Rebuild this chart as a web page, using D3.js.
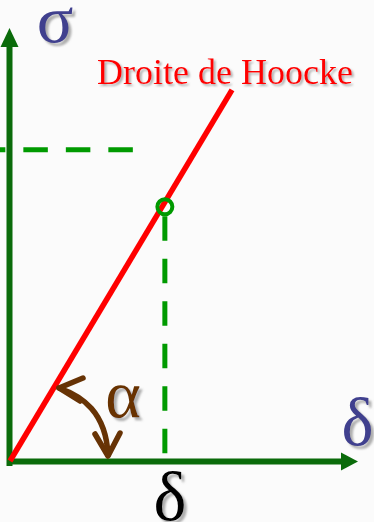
<!DOCTYPE html>
<html>
<head>
<meta charset="utf-8">
<script src="https://cdn.jsdelivr.net/npm/d3@7/dist/d3.min.js"></script>
</head>
<body style="margin:0;background:#fbfbfb">
<script>
// Stress-strain sketch (Hooke's law): strain δ on x, stress σ on y.
const deltaDomain = [0, 10];
const sigmaDomain = [0, 10];

// Hooke line from the origin
const hookeDelta = [0, 6.38];
const hookeSigma = [0, 8.57];

// marked point on the line and its projections
const pointDelta = [4.45];
const pointSigma = [5.87];
const sigmaGuideDelta = [3.53, -0.3];
const sigmaGuideSigma = [7.19, 7.19];
const deltaGuideDelta = [4.45, 4.45];
const deltaGuideSigma = [0.18, 5.7];

// labels
const labelText = ["σ", "δ", "δ", "α", "Droite de Hoocke"];
const labelSize = [68, 68, 70, 68, 36];

const W = 374, H = 522;
const svg = d3.select("body").append("svg").attr("width", W).attr("height", H);

const x = d3.scaleLinear().domain(deltaDomain).range([10, 358]);
const y = d3.scaleLinear().domain(sigmaDomain).range([461, 28]);

// soft drop shadows for the labels
const defs = svg.append("defs");
[["shadow3", 3], ["shadow2", 2]].forEach(([id, off]) => {
  defs.append("filter").attr("id", id)
    .attr("x", "-20%").attr("y", "-20%").attr("width", "150%").attr("height", "150%")
    .append("feDropShadow")
    .attr("dx", off).attr("dy", off).attr("stdDeviation", 0.8)
    .attr("flood-color", "#7a7a7a").attr("flood-opacity", 0.6);
});

// labels, one text element each
const labelX = [55, 357.5, 170, 123, 97];
const labelY = [42, 445, 520, 417, 84];
const labelFill = ["#3f3f8e", "#3f3f8e", "#000000", "#673305", "#ff0000"];
const labels = labelText.map((t, i) => ({ t, i }));

svg.append("g").selectAll("text").data(labels).join("text")
  .attr("x", d => labelX[d.i])
  .attr("y", d => labelY[d.i])
  .attr("font-size", d => labelSize[d.i])
  .style("font-family", '"Liberation Serif"')
  .attr("text-anchor", d => d.i === 4 ? "start" : "middle")
  .attr("fill", d => labelFill[d.i])
  .attr("filter", d => d.i === 4 ? "url(#shadow2)" : "url(#shadow3)")
  .text(d => d.t);

const axisColor = "#0a6b0a";
const guideColor = "#009a00";

// axes with arrow heads
svg.append("line")
  .attr("x1", x(0) - 0.5).attr("y1", y(0) + 5)
  .attr("x2", x(0) - 0.5).attr("y2", y(10) + 16)
  .attr("stroke", axisColor).attr("stroke-width", 6);
svg.append("path")
  .attr("d", `M${x(0) - 0.5},${y(10)} L${x(0) - 9.5},${y(10) + 19} L${x(0) + 8.5},${y(10) + 19} Z`)
  .attr("fill", axisColor);

svg.append("line")
  .attr("x1", x(0) - 3).attr("y1", y(0) + 0.5)
  .attr("x2", x(10) - 16).attr("y2", y(0) + 0.5)
  .attr("stroke", axisColor).attr("stroke-width", 6);
svg.append("path")
  .attr("d", `M${x(10)},${y(0) + 0.5} L${x(10) - 17},${y(0) - 8.5} L${x(10) - 17},${y(0) + 9.5} Z`)
  .attr("fill", axisColor);

// dashed guides
const line = d3.line().x(d => x(d[0])).y(d => y(d[1]));
svg.append("path")
  .attr("d", line(d3.zip(sigmaGuideDelta, sigmaGuideSigma)))
  .attr("stroke", guideColor).attr("stroke-width", 5).attr("fill", "none")
  .attr("stroke-dasharray", "24.5,18");
svg.append("path")
  .attr("d", line(d3.zip(deltaGuideDelta, deltaGuideSigma)))
  .attr("stroke", guideColor).attr("stroke-width", 5).attr("fill", "none")
  .attr("stroke-dasharray", "24.5,18");

// Hooke line
svg.append("path")
  .attr("d", line(d3.zip(hookeDelta, hookeSigma)))
  .attr("stroke", "#ff0000").attr("stroke-width", 5.5).attr("fill", "none");

// marked point
svg.selectAll("circle.pt").data(d3.zip(pointDelta, pointSigma)).join("circle")
  .attr("class", "pt")
  .attr("cx", d => x(d[0])).attr("cy", d => y(d[1]))
  .attr("r", 7.5).attr("fill", "none")
  .attr("stroke", guideColor).attr("stroke-width", 4);

// angle arrow
const brown = "#673305";
const arrow = svg.append("g").attr("stroke", brown).attr("stroke-width", 5.5)
  .attr("fill", "none").attr("stroke-linecap", "round").attr("stroke-linejoin", "round");
arrow.append("path").attr("d", "M59,388 C82,396 106,412 108,455");
arrow.append("path").attr("d", "M83,378 L59,388 L80,401");
arrow.append("path").attr("d", "M95,434 L108,456 L120,433");
</script>
</body>
</html>
